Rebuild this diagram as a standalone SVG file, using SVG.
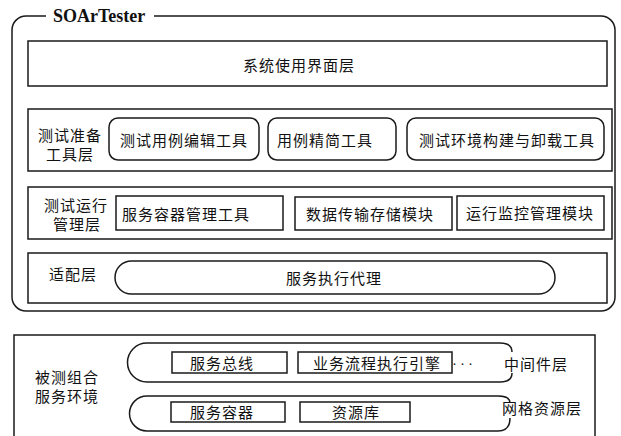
<svg xmlns="http://www.w3.org/2000/svg" width="621" height="436" viewBox="0 0 621 436">
<style>
.b{fill:none;stroke:#1a1a1a;stroke-width:1.5}
.t{font-family:"Noto Sans CJK SC","Noto Sans",sans-serif;font-size:15px;letter-spacing:1px;fill:#111;text-anchor:middle;dominant-baseline:central}
.title{font-family:"Liberation Serif",serif;font-size:18px;font-weight:bold;fill:#111}
</style>
<rect width="621" height="436" fill="#fff"/>
<g id="soartester">
<path class="b" d="M46,16 H26 A14,14 0 0 0 12,30 V297 A14,14 0 0 0 26,311 H601 A14,14 0 0 0 615,297 V30 A14,14 0 0 0 601,16 H154"/>
<text class="title" x="53" y="22">SOArTester</text>
</g>
<g id="ui-layer">
<rect class="b" x="28" y="41" width="579" height="45"/>
<text class="t" x="299" y="64">系统使用界面层</text>
</g>
<g id="prep-layer">
<rect class="b" x="28" y="109" width="584" height="62"/>
<text class="t" x="70" y="134">测试准备</text>
<text class="t" x="70" y="153">工具层</text>
</g>
<g id="tool-edit">
<rect class="b" x="109" y="118" width="150" height="42" rx="9"/>
<text class="t" x="184" y="139">测试用例编辑工具</text>
</g>
<g id="tool-reduce">
<rect class="b" x="268" y="118" width="128" height="42" rx="9"/>
<text class="t" x="325" y="139">用例精简工具</text>
</g>
<g id="tool-env">
<rect class="b" x="407" y="118" width="197" height="42" rx="9"/>
<text class="t" x="507" y="139">测试环境构建与卸载工具</text>
</g>
<g id="run-layer">
<rect class="b" x="28" y="187" width="584" height="52"/>
<text class="t" x="76" y="204">测试运行</text>
<text class="t" x="77" y="223">管理层</text>
</g>
<g id="container-mgr">
<rect class="b" x="116" y="196" width="167" height="34"/>
<text class="t" x="186" y="213">服务容器管理工具</text>
</g>
<g id="data-store">
<rect class="b" x="295" y="197" width="157" height="33"/>
<text class="t" x="370" y="213">数据传输存储模块</text>
</g>
<g id="monitor">
<rect class="b" x="457" y="196" width="147" height="34"/>
<text class="t" x="530" y="212">运行监控管理模块</text>
</g>
<g id="adapter-layer">
<rect class="b" x="28" y="253" width="579" height="50"/>
<text class="t" x="73" y="273">适配层</text>
</g>
<g id="exec-proxy">
<rect class="b" x="115" y="261" width="440" height="33" rx="16.5"/>
<text class="t" x="334" y="277">服务执行代理</text>
</g>
<g id="env">
<rect class="b" x="14" y="335" width="581" height="110"/>
<text class="t" x="67" y="376">被测组合</text>
<text class="t" x="67" y="395">服务环境</text>
</g>
<g id="middleware">
<path class="b" d="M512,352 Q512,343 500,343 H147 A19.5,19.5 0 0 0 147,382 H500 Q512,382 512,373"/>
<text class="t" x="536" y="363">中间件层</text>
</g>
<g id="bus">
<rect class="b" x="172" y="352" width="115" height="21"/>
<text class="t" x="222" y="362">服务总线</text>
</g>
<g id="bpel">
<rect class="b" x="298" y="352" width="154" height="21"/>
<text class="t" x="377" y="362">业务流程执行引擎</text>
<text x="452" y="368" style="font-family:'Liberation Sans',sans-serif;font-size:15px;letter-spacing:3px;fill:#111">···</text>
</g>
<g id="grid">
<path class="b" d="M510,403 Q510,396 498,396 H147 A17.5,17.5 0 0 0 147,431 H498 Q510,431 510,418"/>
<text class="t" x="542" y="407">网格资源层</text>
</g>
<g id="svc-container">
<rect class="b" x="171" y="402" width="114" height="20"/>
<text class="t" x="222" y="411">服务容器</text>
</g>
<g id="repo">
<rect class="b" x="300" y="402" width="110" height="20"/>
<text class="t" x="356" y="411">资源库</text>
</g>
<g id="connectors"></g>
</svg>
